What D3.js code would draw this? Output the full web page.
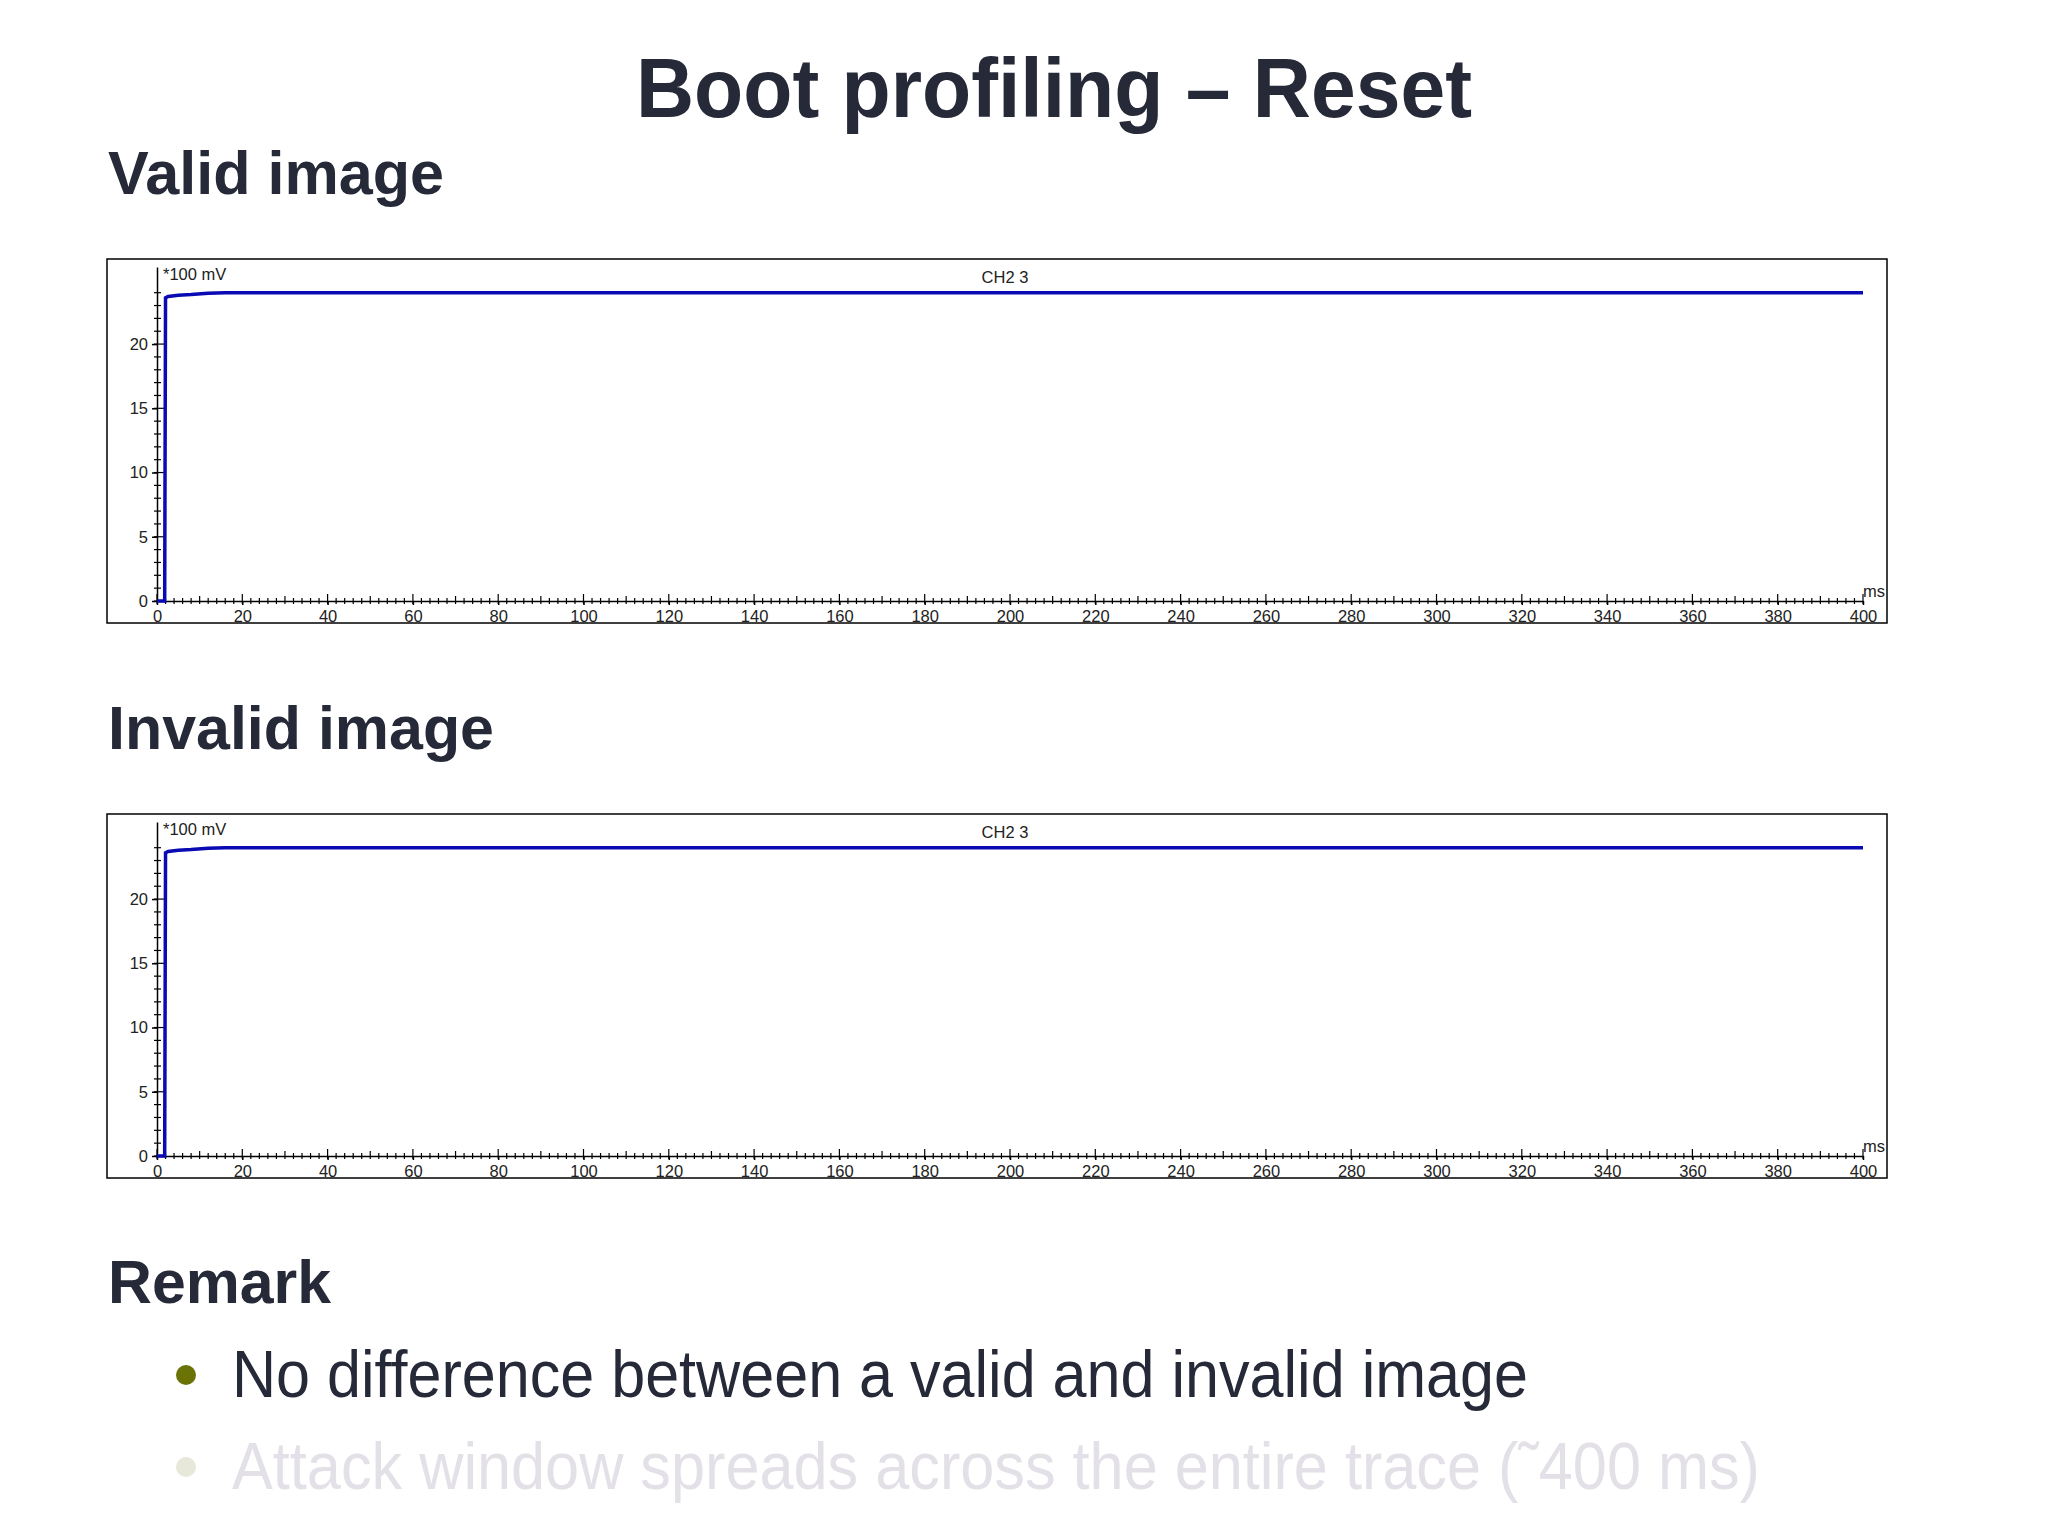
<!DOCTYPE html>
<html>
<head>
<meta charset="utf-8">
<script src="https://cdn.jsdelivr.net/npm/d3@7"></script>
<style>
  body { margin: 0; background: #fff; }
  svg { display: block; }
  .scope text { font-family: "Liberation Sans", Arial, sans-serif; font-size: 16.5px; fill: #222; }
  .scope .domain, .scope .tick line { stroke: #000; stroke-width: 1.5; }
</style>
</head>
<body>
<script>
// trace samples (ms, *100 mV)
const timeMs = [0, 1.8, 2.0, 2.6, 5, 8, 12, 16, 60, 275, 400];
const validTrace = [0, 0, 23.6, 23.7, 23.8, 23.85, 23.95, 24.0, 24.0, 24.0, 24.0];
const invalidTrace = [0, 0, 23.6, 23.7, 23.8, 23.85, 23.95, 24.0, 24.0, 24.0, 24.0];

const xMajor = d3.range(0, 401, 20);
const xMinor = d3.range(0, 401, 2);
const yMajor = [0, 5, 10, 15, 20];
const yMinor = d3.range(0, 25, 1);

const headings = ["Valid image", "Invalid image"];
const bullets = [
  "No difference between a valid and invalid image",
  "Attack window spreads across the entire trace (˜400 ms)"
];

const W = 2048, H = 1536;
const svg = d3.select("body").append("svg").attr("width", W).attr("height", H);

const ink = "#262a38";
const bold = "'Liberation Sans', Arial, sans-serif";

svg.append("text")
    .attr("x", 636).attr("y", 117)
    .attr("textLength", 836).attr("lengthAdjust", "spacingAndGlyphs")
    .style("font-family", bold).style("font-weight", "bold").style("font-size", "84px")
    .style("fill", ink)
    .text("Boot profiling – Reset");

function heading(txt, x, y, len){
  svg.append("text")
      .attr("x", x).attr("y", y)
      .attr("textLength", len).attr("lengthAdjust", "spacingAndGlyphs")
      .style("font-family", bold).style("font-weight", "bold").style("font-size", "62px")
      .style("fill", ink)
      .text(txt);
}
heading(headings[0], 108, 194, 336);
heading(headings[1], 108, 749, 386);
heading("Remark", 108, 1303, 223);

function drawScope(top, values){
  const g = svg.append("g").attr("class", "scope");

  // frame
  g.append("rect")
      .attr("x", 107).attr("y", top)
      .attr("width", 1780).attr("height", 364)
      .style("fill", "none").style("stroke", "#000").style("stroke-width", 1.5);

  const x = d3.scaleLinear().domain([0, 400]).range([157, 1863]);
  const y = d3.scaleLinear().domain([0, 26]).range([top + 342, top + 8]);

  // bottom axis with labels
  g.append("g")
      .attr("transform", "translate(0," + y(0) + ")")
      .call(d3.axisBottom(x).tickValues(xMajor).tickSizeInner(4).tickSizeOuter(0).tickPadding(5));

  g.append("g").selectAll("line.xminor")
      .data(xMinor)
      .enter()
      .append("line")
      .attr("x1", function(d){ return x(d); })
      .attr("x2", function(d){ return x(d); })
      .attr("y1", function(d){
        if (d % 20 === 0) return y(0) - 7;
        if (d % 10 === 0) return y(0) - 5;
        return y(0) - 3;
      })
      .attr("y2", y(0) + 3)
      .style("stroke", "#000").style("stroke-width", 1.2);

  // left axis
  g.append("g")
      .attr("transform", "translate(" + x(0) + ",0)")
      .call(d3.axisLeft(y).tickValues(yMajor).tickSizeInner(5).tickSizeOuter(0).tickPadding(4));

  g.append("g").selectAll("line.yminor")
      .data(yMinor)
      .enter()
      .append("line")
      .attr("y1", function(d){ return y(d); })
      .attr("y2", function(d){ return y(d); })
      .attr("x1", x(0) - 3)
      .attr("x2", function(d){ return d % 5 === 0 ? x(0) + 7 : x(0) + 4; })
      .style("stroke", "#000").style("stroke-width", 1.2);

  g.append("text").attr("x", 163).attr("y", top + 21).text("*100 mV");
  g.append("text").attr("x", 1005).attr("y", top + 24).attr("text-anchor", "middle").text("CH2 3");
  g.append("text").attr("x", 1885).attr("y", top + 338).attr("text-anchor", "end").text("ms");

  // trace
  const line = d3.line()
      .x(function(d, i){ return x(timeMs[i]); })
      .y(function(d){ return y(d); });

  g.append("path")
      .datum(values)
      .attr("d", line)
      .style("fill", "none")
      .style("stroke", "#0a0ab4")
      .style("stroke-width", 3.5);
}

drawScope(259, validTrace);
drawScope(814, invalidTrace);

// remark bullets
const bulletStyle = [
  { text: ink, dot: "#6b7206", y: 1397, len: 1296 },
  { text: "#e3e1e7", dot: "#e7e7da", y: 1489, len: 1528 }
];

bullets.forEach(function(b, i){
  const s = bulletStyle[i];
  svg.append("circle")
      .attr("cx", 186).attr("cy", s.y - 22)
      .attr("r", 10)
      .style("fill", s.dot);
  svg.append("text")
      .attr("x", 232).attr("y", s.y)
      .attr("textLength", s.len).attr("lengthAdjust", "spacingAndGlyphs")
      .style("font-family", bold).style("font-size", "66px")
      .style("fill", s.text)
      .text(b);
});
</script>
</body>
</html>
